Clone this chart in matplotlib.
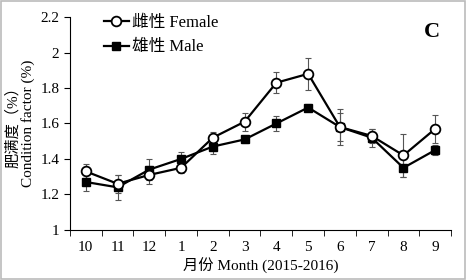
import matplotlib.pyplot as plt
from matplotlib.patches import Rectangle

plt.rcParams['font.family'] = ['Liberation Serif', 'Noto Sans CJK SC']
plt.rcParams['font.size'] = 11

# données
months = ['10', '11', '12', '1', '2', '3', '4', '5', '6', '7', '8', '9']
female = [1.33, 1.26, 1.31, 1.35, 1.52, 1.61, 1.83, 1.88, 1.58, 1.53, 1.42, 1.57]
female_err = [0.04, 0.05, 0.05, 0.03, 0.03, 0.05, 0.06, 0.09, 0.10, 0.04, 0.12, 0.08]
male = [1.27, 1.24, 1.34, 1.40, 1.47, 1.51, 1.60, 1.69, 1.58, 1.52, 1.35, 1.45]
male_err = [0.05, 0.07, 0.06, 0.04, 0.04, 0.02, 0.04, 0.02, 0.08, 0.05, 0.05, 0.03]

fig = plt.figure(figsize=(4.66, 2.8), dpi=100)
ax = fig.add_axes([0.150, 0.179, 0.818, 0.760])

x = list(range(len(months)))

# barres d'erreur
ax.errorbar(x, female, yerr=female_err, fmt='none', ecolor='#555555',
            elinewidth=0.8, capsize=2, capthick=0.8, zorder=1)
ax.errorbar(x, male, yerr=male_err, fmt='none', ecolor='#555555',
            elinewidth=0.8, capsize=2, capthick=0.8, zorder=1)

# courbes
ax.plot(x, male, color='black', lw=1.6, marker='s', ms=6, mfc='black',
        mec='black', label='雄性 Male', zorder=2)
ax.plot(x, female, color='black', lw=1.6, marker='o', ms=7, mfc='white',
        mec='black', mew=1.3, label='雌性 Female', zorder=3)

ax.set_xlim(-0.5, len(months) - 0.5)
ax.set_ylim(1, 2.2)
ax.set_yticks([1, 1.2, 1.4, 1.6, 1.8, 2, 2.2])
ax.set_yticklabels(['1', '1.2', '1.4', '1.6', '1.8', '2', '2.2'])
ax.set_xticks(x)
ax.set_xticklabels(months)
ax.set_xticks([i - 0.5 for i in range(len(months) + 1)], minor=True)
ax.tick_params(axis='x', which='major', length=0, pad=8)
ax.tick_params(axis='x', which='minor', length=4, direction='out')
ax.tick_params(axis='y', length=4, direction='out')

ax.spines['top'].set_visible(False)
ax.spines['right'].set_visible(False)

ax.set_xlabel('月份 Month (2015-2016)', labelpad=3)
ax.set_ylabel('肥满度（%）\nCondition factor (%)', labelpad=4, linespacing=1.1)

ax.text(0.95, 0.93, 'C', transform=ax.transAxes, fontsize=16, fontweight='bold',
        ha='center', va='center')

handles, labels = ax.get_legend_handles_labels()
ax.legend(handles[::-1], labels[::-1], loc='upper left',
          bbox_to_anchor=(0.05, 1.08), frameon=False,
          handlelength=1.5, handletextpad=0.2, labelspacing=0.5, fontsize=12)

fig.patches.append(Rectangle((0.002, 0.003), 0.995, 0.993, transform=fig.transFigure,
                             fill=False, edgecolor='#bbbbbb', lw=1.2))

fig.savefig('out.png', dpi=100)
